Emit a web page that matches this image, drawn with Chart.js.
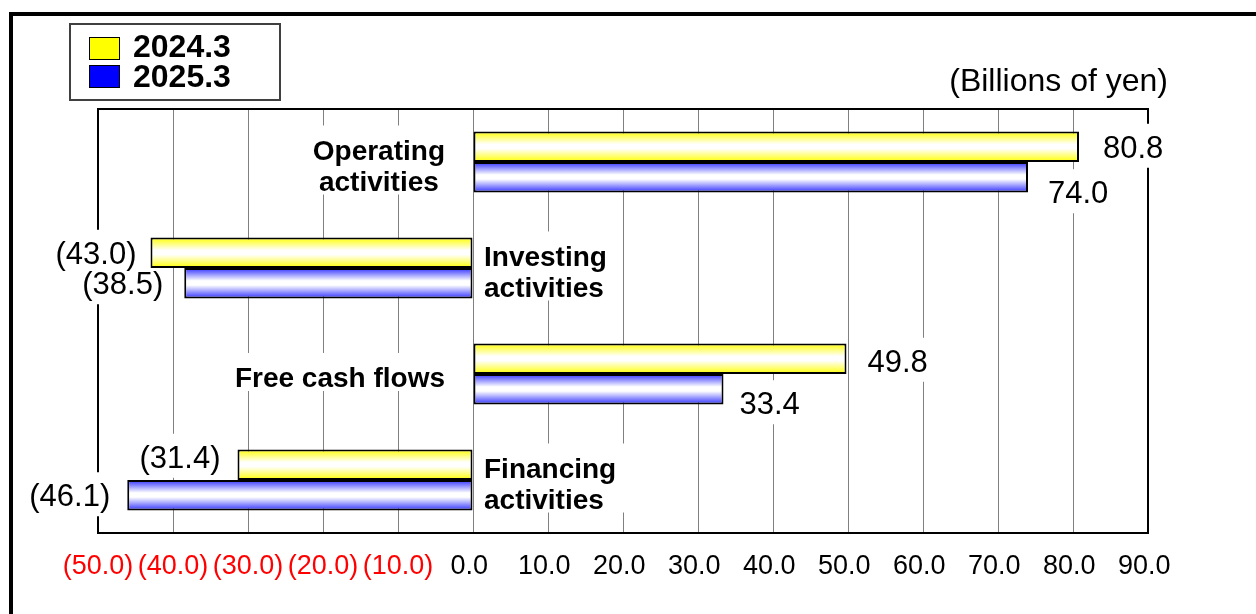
<!DOCTYPE html>
<html>
<head>
<meta charset="utf-8">
<script src="https://cdn.jsdelivr.net/npm/chart.js@4/dist/chart.umd.min.js"></script>
<style>
html,body{margin:0;padding:0;background:#fff;}
#wrap{position:relative;width:1256px;height:614px;}
canvas{display:block;}
</style>
</head>
<body>
<div id="wrap"><canvas id="c" width="1256" height="614"></canvas></div>
<script>
// ---- data ----
const categories = [["Operating", "activities"], ["Investing", "activities"], ["Free cash flows"], ["Financing", "activities"]];
const seriesNames = ["2024.3", "2025.3"];
const values2024 = [80.8, -43.0, 49.8, -31.4];
const values2025 = [74.0, -38.5, 33.4, -46.1];
const axisMin = -50;
const axisMax = 90;
const axisStep = 10;
const unitLabel = "(Billions of yen)";

// ---- styles ----
const FONT = "'Liberation Sans', Arial, Helvetica, sans-serif";
const edgeColors = ["#ffff00", "#3030ff"];
const swatchColors = ["#ffff00", "#0000ff"];
const CAT_SIZE = 28;
const VAL_SIZE = 31;

function fmt(v) {
  return v < 0 ? "(" + Math.abs(v).toFixed(1) + ")" : v.toFixed(1);
}

const labelOpts = {
  // horizontal gap from bar end to label, and vertical nudge, per series / category
  gap: [[24, 14, 21, 17], [20, 21, 16, 17]],
  dy: [[0, 0, 2, -8], [15, 0, 14, 0]]
};

function valueLayouts(chart) {
  const ctx = chart.ctx;
  const out = [];
  ctx.save();
  ctx.font = VAL_SIZE + "px " + FONT;
  chart.data.datasets.forEach((ds, di) => {
    const meta = chart.getDatasetMeta(di);
    meta.data.forEach((el, i) => {
      const v = ds.data[i];
      const txt = fmt(v);
      const w = ctx.measureText(txt).width;
      const gap = labelOpts.gap[di][i];
      const x = v >= 0 ? el.x + gap : el.x - gap - w;
      const yc = el.y + labelOpts.dy[di][i];
      out.push({ txt, x, yc, w });
    });
  });
  ctx.restore();
  return out;
}

function categoryLayouts(chart) {
  const ctx = chart.ctx;
  const xs = chart.scales.x, ys = chart.scales.y;
  const zero = xs.getPixelForValue(0);
  const out = [];
  ctx.save();
  ctx.font = "bold " + CAT_SIZE + "px " + FONT;
  chart.data.labels.forEach((lines, i) => {
    const positive = chart.data.datasets[0].data[i] >= 0;
    const yc = ys.getPixelForValue(i) + 3;
    const lh = 31;
    const widths = lines.map(l => ctx.measureText(l).width);
    const maxW = Math.max(...widths);
    const first = yc - (lines.length - 1) * lh / 2;
    const items = lines.map((l, k) => {
      let x;
      if (positive) {
        const right = zero - 28;
        x = right - maxW / 2 - widths[k] / 2;
      } else {
        x = zero + 11;
      }
      return { txt: l, x, yc: first + k * lh };
    });
    let bx0, bx1;
    if (positive) { bx1 = zero - 24; bx0 = zero - 28 - maxW - 16; }
    else { bx0 = zero + 7; bx1 = zero + 11 + maxW + 16; }
    out.push({ items, box: [bx0, first - 24, bx1 - bx0, (lines.length - 1) * lh + 38] });
  });
  ctx.restore();
  return out;
}

const decor = {
  id: 'decor',
  beforeDraw(chart) {
    const ctx = chart.ctx;
    ctx.save();
    ctx.fillStyle = "#ffffff";
    ctx.fillRect(0, 0, chart.width, chart.height);
    ctx.fillStyle = "#000000";
    ctx.fillRect(9, 12, chart.width - 9, 4);
    ctx.fillRect(9, 12, 4, chart.height - 12);
    ctx.restore();
  },
  beforeDatasetsDraw(chart) {
    const ctx = chart.ctx;
    const a = chart.chartArea;
    ctx.save();
    // plot frame
    ctx.strokeStyle = "#000";
    ctx.lineWidth = 2;
    ctx.strokeRect(a.left, a.top, a.right - a.left, a.bottom - a.top);
    // label backgrounds (cover grid lines)
    ctx.fillStyle = "#ffffff";
    valueLayouts(chart).forEach(L => {
      ctx.fillRect(L.x - 4, L.yc - 23, L.w + 8, 44);
    });
    categoryLayouts(chart).forEach(C => {
      ctx.fillRect(C.box[0], C.box[1], C.box[2], C.box[3]);
    });
    // gradient fills for bars
    chart.data.datasets.forEach((ds, di) => {
      const meta = chart.getDatasetMeta(di);
      meta.data.forEach(el => {
        const top = el.y - el.height / 2, bot = el.y + el.height / 2;
        const g = ctx.createLinearGradient(0, top, 0, bot);
        g.addColorStop(0, edgeColors[di]);
        g.addColorStop(0.42, "#ffffff");
        g.addColorStop(0.56, "#ffffff");
        g.addColorStop(1, edgeColors[di]);
        el.options.backgroundColor = g;
      });
    });
    ctx.restore();
  },
  afterDatasetsDraw(chart) {
    const ctx = chart.ctx;
    ctx.save();
    ctx.fillStyle = "#000";
    ctx.textAlign = "left";
    ctx.textBaseline = "alphabetic";
    ctx.font = VAL_SIZE + "px " + FONT;
    valueLayouts(chart).forEach(L => {
      ctx.fillText(L.txt, L.x, L.yc + 0.358 * VAL_SIZE);
    });
    ctx.font = "bold " + CAT_SIZE + "px " + FONT;
    categoryLayouts(chart).forEach(C => {
      C.items.forEach(it => ctx.fillText(it.txt, it.x, it.yc + 0.358 * CAT_SIZE));
    });
    ctx.restore();
  },
  afterDraw(chart) {
    const ctx = chart.ctx;
    ctx.save();
    // unit label
    ctx.fillStyle = "#000";
    ctx.font = "32px " + FONT;
    ctx.textAlign = "right";
    ctx.textBaseline = "alphabetic";
    ctx.fillText(unitLabel, 1168, 91);
    // legend
    ctx.strokeStyle = "#404040";
    ctx.lineWidth = 2;
    ctx.strokeRect(70, 24, 210, 76);
    ctx.font = "bold 32px " + FONT;
    ctx.textAlign = "left";
    chart.data.datasets.forEach((ds, di) => {
      const sy = 37 + di * 28;
      ctx.fillStyle = swatchColors[di];
      ctx.fillRect(89.5, sy, 30, 22);
      ctx.strokeStyle = "#000";
      ctx.lineWidth = 1;
      ctx.strokeRect(89.5, sy + 0.5, 30, 22);
      ctx.fillStyle = "#000";
      ctx.fillText(ds.label, 133, 57 + di * 30);
    });
    ctx.restore();
  }
};

new Chart(document.getElementById('c'), {
  type: 'bar',
  data: {
    labels: categories,
    datasets: [
      { label: seriesNames[0], data: values2024, backgroundColor: () => edgeColors[0] },
      { label: seriesNames[1], data: values2025, backgroundColor: () => edgeColors[1] }
    ]
  },
  options: {
    responsive: false,
    animation: false,
    devicePixelRatio: 1,
    indexAxis: 'y',
    datasets: {
      bar: {
        borderColor: '#000',
        borderWidth: 2,
        borderSkipped: false,
        categoryPercentage: 0.575,
        barPercentage: 1.0
      }
    },
    layout: { padding: { top: 109, left: 98, right: 108, bottom: 0 } },
    plugins: { legend: { display: false }, tooltip: { enabled: false }, title: { display: false } },
    scales: {
      x: {
        min: axisMin,
        max: axisMax,
        afterFit(s) { s.height = 81; },
        border: { display: false },
        grid: { color: '#808080', lineWidth: 1, drawTicks: false },
        ticks: {
          stepSize: axisStep,
          autoSkip: false,
          maxRotation: 0,
          padding: 17,
          font: { family: FONT, size: 27 },
          color: c => (c.tick && c.tick.value < 0) ? '#ff0000' : '#000000',
          callback: v => v < 0 ? fmt(v) : fmt(v) + ' '
        }
      },
      y: { display: false, offset: true }
    }
  },
  plugins: [decor]
});
</script>
</body>
</html>
